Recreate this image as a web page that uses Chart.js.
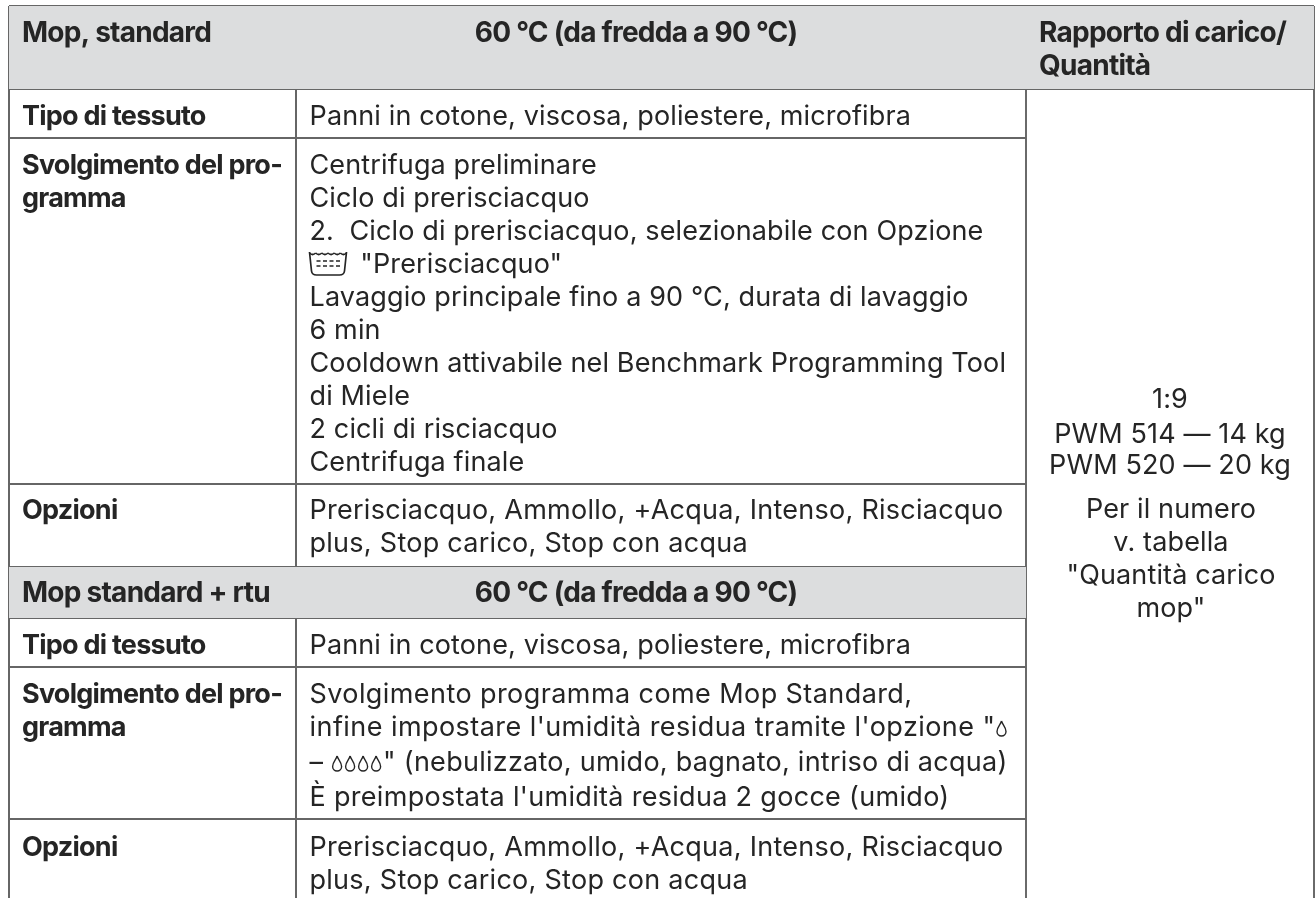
<!DOCTYPE html>
<html>
<head>
<meta charset="utf-8">
<title>Mop, standard</title>
<script src="https://cdn.jsdelivr.net/npm/chart.js@4"></script>
<style>
  html, body { margin: 0; padding: 0; background: #fff; }
  canvas { display: block; }
</style>
</head>
<body>
<canvas id="chart" width="1316" height="898"></canvas>
<script>
// table content
const headerTitles = ['Mop, standard', '60 °C (da fredda a 90 °C)'];
const headerLoad = ['Rapporto di carico/', 'Quantità'];
const bandTitles = ['Mop standard + rtu', '60 °C (da fredda a 90 °C)'];
const rowFabric = 'Tipo di tessuto';
const rowProgram = ['Svolgimento del pro-', 'gramma'];
const rowOptions = 'Opzioni';
const fabricText = 'Panni in cotone, viscosa, poliestere, microfibra';
const programText = [
  'Centrifuga preliminare',
  'Ciclo di prerisciacquo',
  '2.  Ciclo di prerisciacquo, selezionabile con Opzione',
  '{tub} "Prerisciacquo"',
  'Lavaggio principale fino a 90 °C, durata di lavaggio',
  '6 min',
  'Cooldown attivabile nel Benchmark Programming Tool',
  'di Miele',
  '2 cicli di risciacquo',
  'Centrifuga finale'
];
const optionsText = [
  'Prerisciacquo, Ammollo, +Acqua, Intenso, Risciacquo',
  'plus, Stop carico, Stop con acqua'
];
const rtuText = [
  'Svolgimento programma come Mop Standard,',
  "infine impostare l'umidità residua tramite l'opzione \"{drop}",
  '– {drop}{drop}{drop}{drop}" (nebulizzato, umido, bagnato, intriso di acqua)',
  "È preimpostata l'umidità residua 2 gocce (umido)"
];
const loadRatio = '1:9';
const loadModels = ['PWM 514 — 14 kg', 'PWM 520 — 20 kg'];
const loadNote = ['Per il numero', 'v. tabella', '"Quantità carico', 'mop"'];

// grid of the table, in scale units
const colEdges = [9, 296, 1026, 1314];
const rowEdges = [6, 89, 138, 484, 567, 618, 667, 819, 898];

const ink = '#252525';
const ruleGrey = '#666666';
const ruleDark = '#3a3a3a';
const bandGrey = '#dcddde';

const textLeft = 309.5;
const body = { font: '400 27px Inter', sample: fabricText, width: 601.5 };
const bold = { font: '700 27px Inter', sample: rowProgram[0], width: 260 };
const head = { font: '700 28px Inter', sample: bandTitles[0], width: 248 };
const optionsWidth = 694;
const rtuWidths = [603, 699, 698, 640];

function rule(x0, y0, x1, y1, color, w) {
  return {
    data: [{ x: x0, y: y0 }, { x: x1, y: y1 }],
    showLine: true, borderColor: color, borderWidth: w, pointRadius: 0, fill: false
  };
}

function band(a, b, right) {
  return {
    data: [{ x: colEdges[0], y: rowEdges[a] }, { x: colEdges[right], y: rowEdges[a] }],
    showLine: true, borderWidth: 0, pointRadius: 0,
    fill: { value: rowEdges[b] }, backgroundColor: bandGrey
  };
}

const datasets = [band(0, 1, 3), band(4, 5, 2)];
// horizontal rules
datasets.push(rule(colEdges[0], rowEdges[0], colEdges[3], rowEdges[0], ruleGrey, 2));
datasets.push(rule(colEdges[0], rowEdges[1], colEdges[3], rowEdges[1], ruleGrey, 2));
[2, 3, 4, 5, 6, 7].forEach(i => {
  datasets.push(rule(colEdges[0], rowEdges[i], colEdges[2], rowEdges[i], ruleGrey, 2));
});
// vertical rules
datasets.push(rule(colEdges[0], rowEdges[0], colEdges[0], rowEdges[8], ruleGrey, 2));
datasets.push(rule(colEdges[1], rowEdges[1], colEdges[1], rowEdges[4], ruleGrey, 2));
datasets.push(rule(colEdges[1], rowEdges[5], colEdges[1], rowEdges[8], ruleGrey, 2));
datasets.push(rule(colEdges[2], rowEdges[1], colEdges[2], rowEdges[8], ruleDark, 1.5));
datasets.push(rule(colEdges[3], rowEdges[0], colEdges[3], rowEdges[8], ruleDark, 1.5));

const tubAdvance = 43;
const dropAdvance = 13;
const iconSplit = /(\{tub\}|\{drop\})/;

// letter spacing that makes a line come out at the given width
function spacingFor(ctx, font, text, width) {
  ctx.font = font;
  ctx.letterSpacing = '0px';
  let used = 0, chars = 0;
  text.split(iconSplit).forEach(part => {
    if (part === '{tub}') used += tubAdvance;
    else if (part === '{drop}') used += dropAdvance;
    else if (part) { used += ctx.measureText(part).width; chars += part.length; }
  });
  return (width - used) / chars + 'px';
}

function drawTub(ctx, x, base) {
  const top = base - 21, w = 37, bot = base + 2;
  ctx.save();
  ctx.letterSpacing = '0px';
  ctx.strokeStyle = ink;
  ctx.lineWidth = 1.7;
  ctx.beginPath();
  ctx.moveTo(x, top);
  ctx.lineTo(x + 2, bot - 4);
  ctx.quadraticCurveTo(x + 2.5, bot, x + 7, bot);
  ctx.lineTo(x + w - 7, bot);
  ctx.quadraticCurveTo(x + w - 2.5, bot, x + w - 2, bot - 4);
  ctx.lineTo(x + w, top);
  ctx.stroke();
  ctx.beginPath();
  for (let i = 0; i < 6; i++) {
    const a = x + i * w / 6;
    ctx.moveTo(a, top + 1);
    ctx.quadraticCurveTo(a + w / 12, top + 4, a + w / 6, top + 1);
  }
  ctx.stroke();
  ctx.setLineDash([4, 2.5]);
  ctx.lineWidth = 1.3;
  [top + 9, top + 14].forEach(y => {
    ctx.beginPath();
    ctx.moveTo(x + 7, y);
    ctx.lineTo(x + w - 6, y);
    ctx.stroke();
  });
  ctx.restore();
}

function drawDrop(ctx, x, base) {
  const cx = x + 6, top = base - 15, bot = base;
  ctx.save();
  ctx.strokeStyle = ink;
  ctx.lineWidth = 1.4;
  ctx.beginPath();
  ctx.moveTo(cx, top);
  ctx.bezierCurveTo(cx + 1, top + 4, cx + 4.5, top + 6, cx + 4.5, bot - 4.5);
  ctx.arc(cx, bot - 4.5, 4.5, 0, Math.PI);
  ctx.bezierCurveTo(cx - 4.5, top + 6, cx - 1, top + 4, cx, top);
  ctx.stroke();
  ctx.restore();
}

function putLine(ctx, text, x, base) {
  let cur = x;
  text.split(iconSplit).forEach(part => {
    if (part === '{tub}') { drawTub(ctx, cur, base); cur += tubAdvance; }
    else if (part === '{drop}') { drawDrop(ctx, cur, base); cur += dropAdvance; }
    else if (part) {
      ctx.fillText(part, cur, base);
      cur += ctx.measureText(part).width;
    }
  });
}

const tableText = {
  id: 'tableText',
  afterDatasetsDraw(chart) {
    const { ctx, scales } = chart;
    const X = v => scales.x.getPixelForValue(v);
    const Y = v => scales.y.getPixelForValue(v);
    const bodySp = spacingFor(ctx, body.font, body.sample, body.width);
    const boldSp = spacingFor(ctx, bold.font, bold.sample, bold.width);
    const headSp = spacingFor(ctx, head.font, head.sample, head.width);
    const optSp = spacingFor(ctx, body.font, optionsText[0], optionsWidth);
    const rtuSp = rtuText.map((t, i) => spacingFor(ctx, body.font, t, rtuWidths[i]));
    ctx.save();
    ctx.fillStyle = ink;
    ctx.textBaseline = 'alphabetic';
    ctx.textAlign = 'left';

    ctx.font = head.font;
    ctx.letterSpacing = headSp;
    ctx.fillText(headerTitles[0], X(22), Y(42));
    ctx.fillText(bandTitles[0], X(22), Y(602));
    ctx.fillText(headerLoad[0], X(1039), Y(42));
    ctx.fillText(headerLoad[1], X(1039), Y(75));
    ctx.textAlign = 'center';
    ctx.fillText(headerTitles[1], X(636), Y(42));
    ctx.fillText(bandTitles[1], X(636), Y(602));

    ctx.font = bold.font;
    ctx.letterSpacing = boldSp;
    ctx.textAlign = 'left';
    ctx.fillText(rowFabric, X(22), Y(125));
    ctx.fillText(rowProgram[0], X(22), Y(174));
    ctx.fillText(rowProgram[1], X(22), Y(207));
    ctx.fillText(rowOptions, X(22), Y(519));
    ctx.fillText(rowFabric, X(22), Y(654));
    ctx.fillText(rowProgram[0], X(22), Y(703));
    ctx.fillText(rowProgram[1], X(22), Y(736));
    ctx.fillText(rowOptions, X(22), Y(856));

    ctx.font = body.font;
    ctx.letterSpacing = bodySp;
    ctx.fillText(fabricText, X(textLeft), Y(125));
    ctx.fillText(fabricText, X(textLeft), Y(654));
    programText.forEach((t, i) => putLine(ctx, t, X(textLeft), Y(174 + i * 33)));

    ctx.letterSpacing = optSp;
    optionsText.forEach((t, i) => {
      ctx.fillText(t, X(textLeft), Y(519 + i * 33));
      ctx.fillText(t, X(textLeft), Y(856 + i * 33));
    });
    [703, 736, 771, 806].forEach((b, i) => {
      ctx.letterSpacing = rtuSp[i];
      putLine(ctx, rtuText[i], X(textLeft), Y(b));
    });

    ctx.letterSpacing = bodySp;
    ctx.textAlign = 'center';
    ctx.fillText(loadRatio, X(1170), Y(408));
    ctx.fillText(loadModels[0], X(1170), Y(443));
    ctx.fillText(loadModels[1], X(1170), Y(474));
    loadNote.forEach((t, i) => ctx.fillText(t, X(1171), Y(518 + i * 33)));
    ctx.restore();
  }
};

new Chart(document.getElementById('chart'), {
  type: 'scatter',
  data: { datasets },
  plugins: [tableText],
  options: {
    responsive: false,
    animation: false,
    layout: { padding: 0 },
    plugins: { legend: { display: false }, tooltip: { enabled: false } },
    scales: {
      x: { type: 'linear', display: false, min: 0, max: 1316 },
      y: { type: 'linear', display: false, min: 0, max: 898, reverse: true }
    }
  }
});
</script>
</body>
</html>
